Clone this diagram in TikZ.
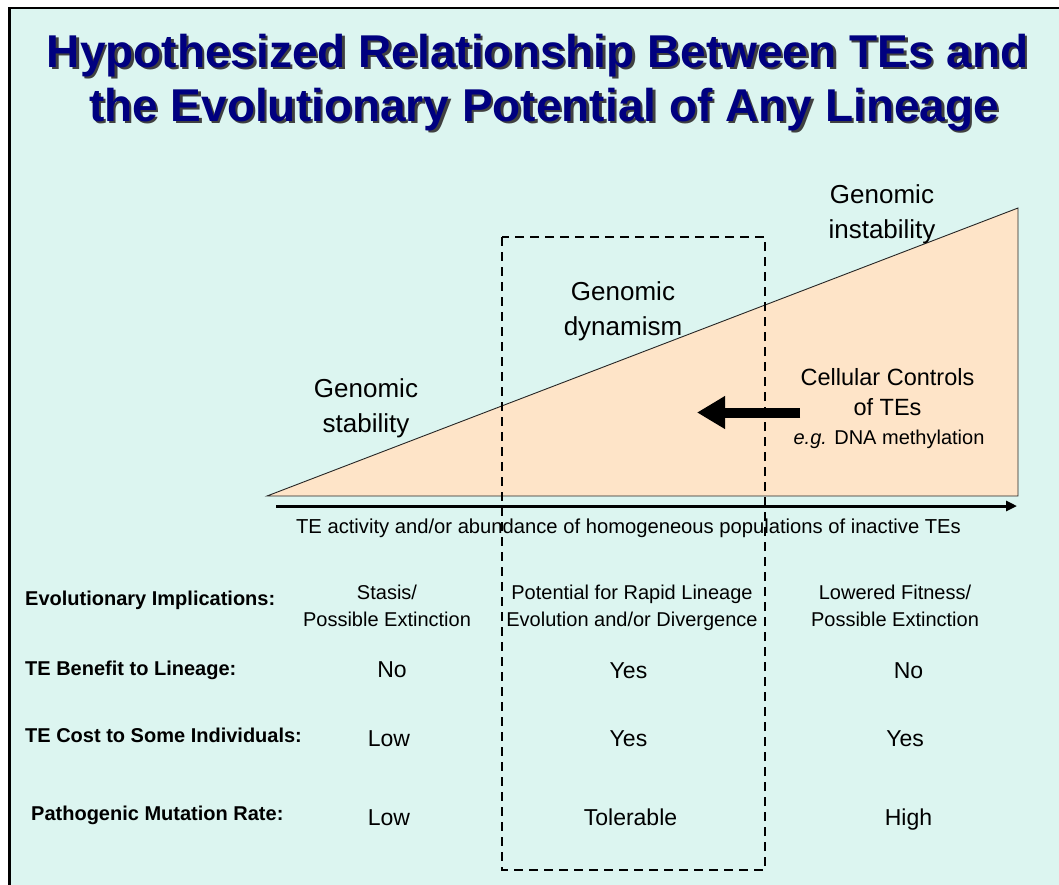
\documentclass[tikz,border=0pt]{standalone}
\usepackage{fontspec}
\setmainfont{Liberation Sans}
\usetikzlibrary{arrows.meta}
\definecolor{bgcyan}{RGB}{220,245,240}
\definecolor{peach}{RGB}{254,228,200}
\definecolor{titlenavy}{RGB}{0,0,128}
\newcommand{\mlines}[1]{\begin{tabular}[t]{@{}c@{}}#1\end{tabular}}
\newcommand{\shadowtext}[1]{\makebox[0pt][l]{\hspace{2.5pt}\raisebox{-2.5pt}{\color{black!75}#1}}{\color{titlenavy}#1}}
\begin{document}
\begin{tikzpicture}[x=1pt,y=-1pt,
  gen/.style={anchor=base,inner sep=0pt,font=\fontsize{26}{35}\selectfont},
  ctl/.style={anchor=base,inner sep=0pt,font=\fontsize{23.5}{30}\selectfont},
  hdr/.style={anchor=base,inner sep=0pt,font=\fontsize{20}{27}\selectfont},
  axl/.style={anchor=base,inner sep=0pt,font=\fontsize{20.2}{24}\selectfont},
  val/.style={anchor=base,inner sep=0pt,font=\fontsize{23}{28}\selectfont},
  rowlbl/.style={anchor=base west,inner sep=0pt,font=\bfseries\fontsize{20}{24}\selectfont},
  ttl/.style={anchor=base,inner sep=0pt,font=\bfseries\fontsize{46}{54}\selectfont},
  dashbox/.style={draw=black,line width=2.2pt,dash pattern=on 9pt off 6pt},
  axisline/.style={line width=3pt,-{Triangle[length=11pt,width=10pt]}},
  bigarrow/.style={line width=10pt,-{Triangle[length=28pt,width=31pt]}}]
\useasboundingbox (0,0) rectangle (1059,884);
\fill[white] (0,0) rectangle (1059,884);
\filldraw[fill=bgcyan,draw=black,line width=2.6pt] (9.5,8) rectangle (1090,910);
% title with drop shadow
\node[ttl] (title) at (544,67) {\mlines{\shadowtext{Hypothesized Relationship Between TEs and}\kern0.278em\\\shadowtext{the Evolutionary Potential of Any Lineage}}};
% triangle
\filldraw[fill=peach,draw=black!85,line width=0.9pt] (267,496) -- (1018,496) -- (1018,208) -- cycle;
% dashed box
\draw[dashbox] (502,237) rectangle (765,870);
% axis
\coordinate (axL) at (276,506);
\coordinate (axR) at (1017,506);
\draw[axisline] (axL) -- (axR);
% big arrow
\coordinate (ctlA) at (800,412.5);
\coordinate (ctlB) at (697,412.5);
\draw[bigarrow] (ctlA) -- (ctlB);
% labels in chart
\node[gen] (stab) at (366,397) {\mlines{Genomic\\stability}};
\node[gen] (dyn) at (623,300) {\mlines{Genomic\\dynamism}};
\node[gen] (instab) at (882,203) {\mlines{Genomic\\instability}};
\node[ctl] (ctrl) at (887.5,385) {\mlines{Cellular Controls\\of TEs}};
\node[hdr] (eg) at (889,444) {{\itshape e.g.} DNA methylation};
\node[axl] (axlbl) at (628.5,533) {TE activity and/or abundance of homogeneous populations of inactive TEs};
% row labels
\node[rowlbl] (r1) at (25,605) {Evolutionary Implications:};
\node[rowlbl] (r2) at (25,675) {TE Benefit to Lineage:};
\node[rowlbl] (r3) at (25,742) {TE Cost to Some Individuals:};
\node[rowlbl] (r4) at (31,820) {Pathogenic Mutation Rate:};
% column 1
\node[hdr] (c1h) at (387,599) {\mlines{Stasis/\\Possible Extinction}};
\node[val] (c1a) at (392,677) {No};
\node[val] (c1b) at (389,746) {Low};
\node[val] (c1c) at (389,825) {Low};
% column 2
\node[hdr] (c2h) at (632,599) {\mlines{Potential for Rapid Lineage\\Evolution and/or Divergence}};
\node[val] (c2a) at (628.5,678) {Yes};
\node[val] (c2b) at (628.5,746) {Yes};
\node[val] (c2c) at (630.5,825) {Tolerable};
% column 3
\node[hdr] (c3h) at (895,599) {\mlines{Lowered Fitness/\\Possible Extinction}};
\node[val] (c3a) at (908.5,678) {No};
\node[val] (c3b) at (905,746) {Yes};
\node[val] (c3c) at (908.5,825) {High};
\end{tikzpicture}
\end{document}
